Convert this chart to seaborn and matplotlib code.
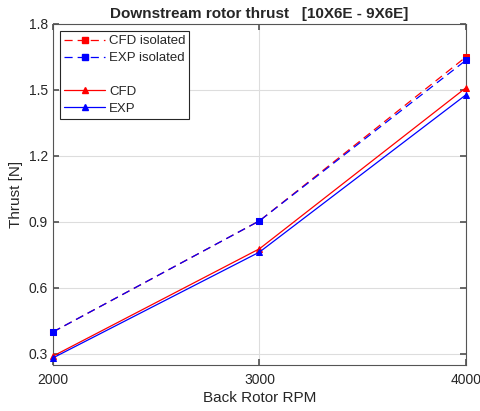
import matplotlib
matplotlib.use("Agg")
import matplotlib.pyplot as plt
import seaborn as sns
import pandas as pd
from matplotlib.lines import Line2D

rpm = [2000, 3000, 4000]
cfd_isolated = [0.40, 0.905, 1.65]
exp_isolated = [0.40, 0.905, 1.635]
cfd = [0.29, 0.778, 1.51]
exp = [0.282, 0.763, 1.478]

sns.set_theme(style="white")
plt.rcParams['font.family'] = ['Liberation Sans', 'DejaVu Sans']

fig = plt.figure(figsize=(4.81, 4.11), dpi=100)
ax = fig.add_axes([0.110, 0.112, 0.859, 0.830])

DASH = (0, (6.5, 4))
series = [
    ("CFD isolated", cfd_isolated, "red", DASH, "s"),
    ("EXP isolated", exp_isolated, "blue", DASH, "s"),
    ("CFD", cfd, "red", "-", "^"),
    ("EXP", exp, "blue", "-", "^"),
]
for name, vals, col, ls, mk in series:
    df = pd.DataFrame({"rpm": rpm, "thrust": vals})
    sns.lineplot(data=df, x="rpm", y="thrust", ax=ax, color=col, linestyle=ls,
                 marker=mk, markersize=5, markeredgecolor=col, linewidth=0.9,
                 legend=False, clip_on=False, zorder=3)

ax.set_xlim(2000, 4000)
ax.set_ylim(0.25, 1.8)
ax.set_xticks([2000, 3000, 4000])
ax.set_yticks([0.3, 0.6, 0.9, 1.2, 1.5, 1.8])
ax.set_yticklabels(["0.3", "0.6", "0.9", "1.2", "1.5", "1.8"])
ax.grid(True, color="#dddddd", linewidth=0.8)
ax.set_axisbelow(True)
for s in ax.spines.values():
    s.set_color("#555555")
    s.set_linewidth(0.8)
    s.set_zorder(2)
ax.tick_params(direction="in", length=4, color="#555555", labelsize=10,
               labelcolor="#262626", top=True, right=True, bottom=True, left=True)
ax.tick_params(axis="x", pad=6)
ax.set_xlabel("Back Rotor RPM", fontsize=11, color="#262626", labelpad=3)
ax.set_ylabel("Thrust [N]", fontsize=11, color="#262626")
ax.set_title("Downstream rotor thrust   [10X6E - 9X6E]", fontsize=11,
             fontweight="bold", pad=4)

handles = [
    Line2D([], [], color="red", linestyle=DASH, marker="s", markersize=5, linewidth=0.9),
    Line2D([], [], color="blue", linestyle=DASH, marker="s", markersize=5, linewidth=0.9),
    Line2D([], [], color="none"),
    Line2D([], [], color="red", linestyle="-", marker="^", markersize=5, linewidth=0.9),
    Line2D([], [], color="blue", linestyle="-", marker="^", markersize=5, linewidth=0.9),
]
labels = ["CFD isolated", "EXP isolated", "", "CFD", "EXP"]
leg = ax.legend(handles, labels, loc="upper left", fontsize=9.5, frameon=True,
                fancybox=False, edgecolor="#262626", framealpha=1,
                handlelength=3.1, handletextpad=0.3, borderpad=0.3,
                labelspacing=0.35, borderaxespad=0.55)
leg.get_frame().set_linewidth(0.8)
leg.set_zorder(5)

fig.savefig("out.png", dpi=100)
